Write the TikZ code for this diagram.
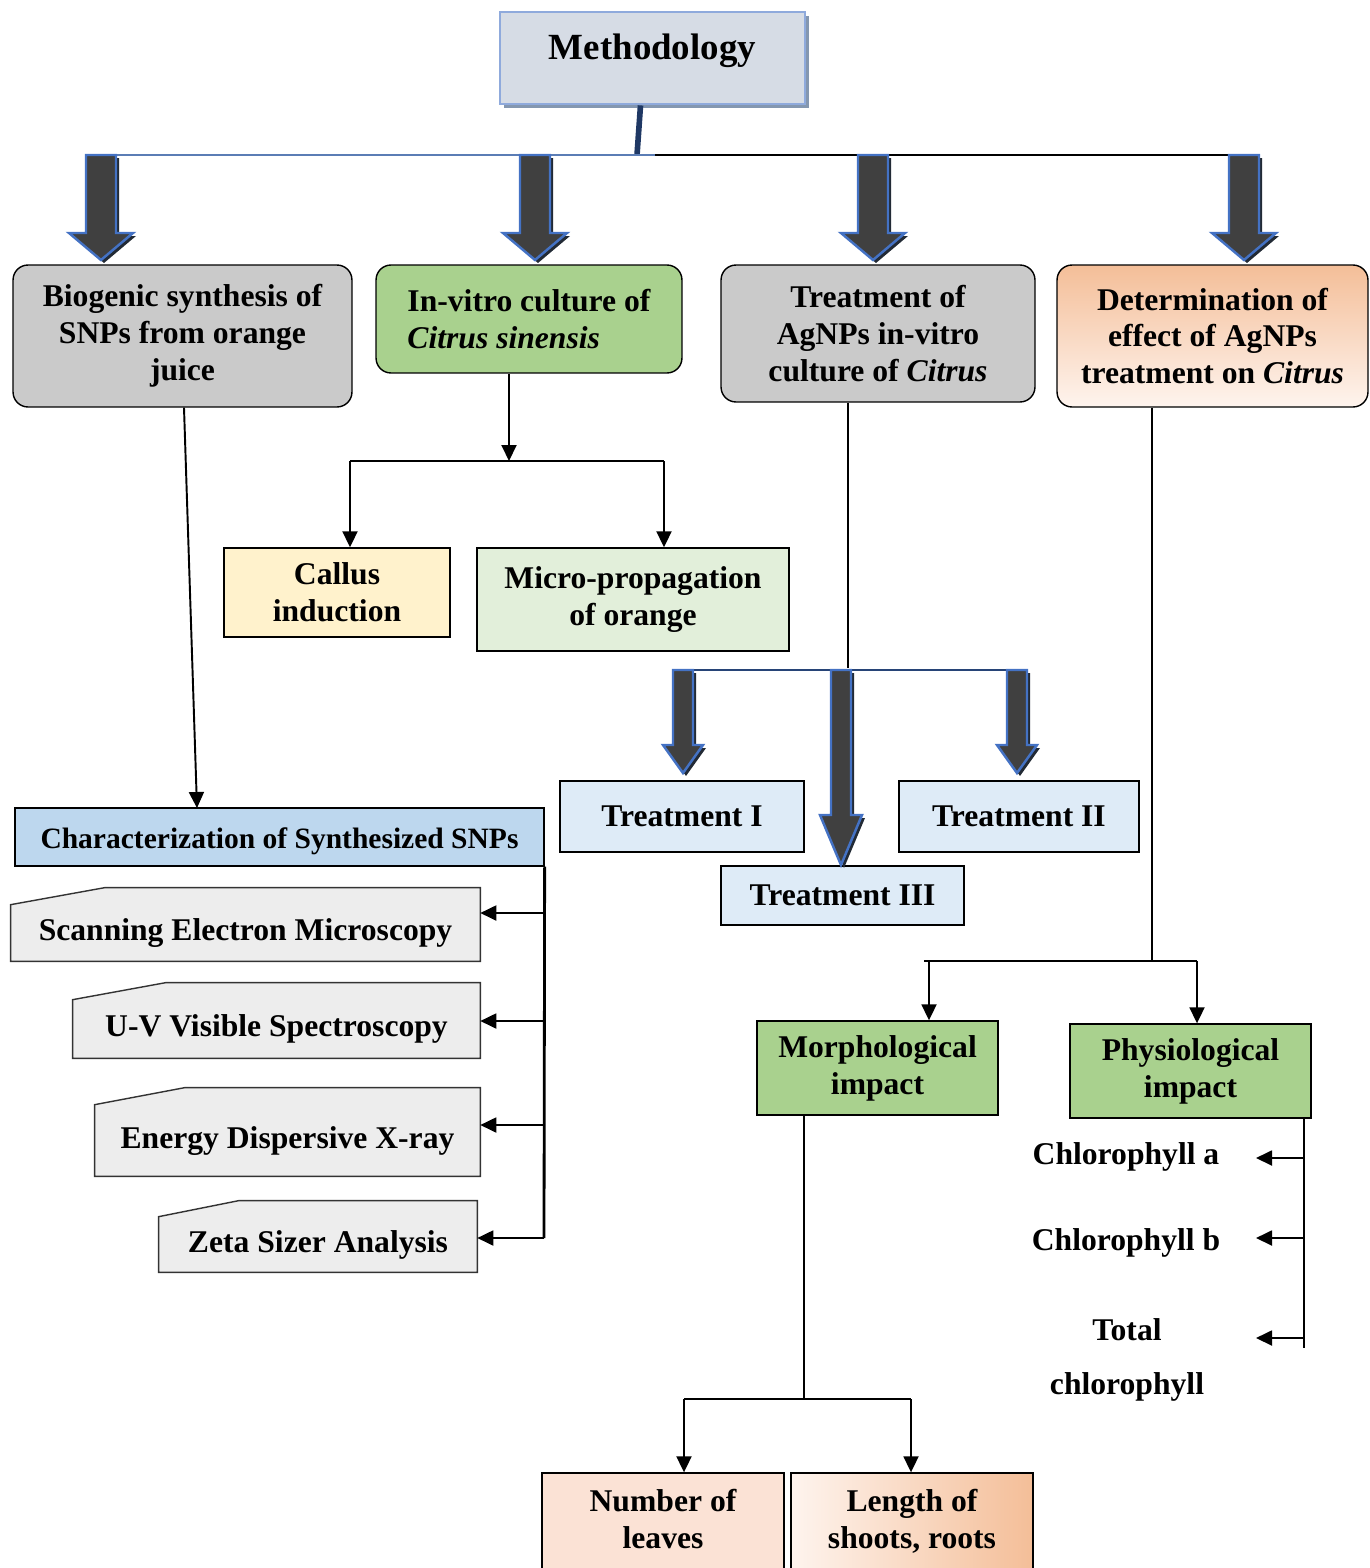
\documentclass[tikz,border=0pt]{standalone}
\usepackage{fontspec}
\setmainfont{Liberation Serif}
\usepackage{xcolor}
\usetikzlibrary{arrows.meta, shadows, backgrounds, calc}

\definecolor{methfill}{HTML}{D6DCE5}
\definecolor{methdraw}{HTML}{8FAADC}
\definecolor{methshadow}{HTML}{8497B0}
\definecolor{navy}{HTML}{1F3864}
\definecolor{steel}{HTML}{5B7DB5}
\definecolor{grayfill}{HTML}{CACACA}
\definecolor{greenfill}{HTML}{A9D18E}
\definecolor{callusfill}{HTML}{FFF2CC}
\definecolor{microfill}{HTML}{E2EFDA}
\definecolor{charfill}{HTML}{BDD7EE}
\definecolor{snipfill}{HTML}{EDEDED}
\definecolor{treatfill}{HTML}{DEEBF7}
\definecolor{peach}{HTML}{F4BE98}
\definecolor{peachlight}{HTML}{FEF4EE}
\definecolor{leavesfill}{HTML}{FBE2D5}
\definecolor{arrdark}{HTML}{404040}
\definecolor{arrblue}{HTML}{4472C4}
\definecolor{arrshadow}{HTML}{222A35}

\tikzset{
  every node/.style={font=\fontsize{18}{21}\selectfont\bfseries},
  box/.style={draw=black, line width=0.8pt, inner sep=0pt, align=center},
  rbox/.style={box, rounded corners=0.3cm},
  snipbox/.style={inner sep=0pt, align=center, text height=0.78cm},
  snipline/.style={draw=black!80, fill=snipfill, line width=0.8pt},
  conn/.style={line width=1.1pt, black},
  arr/.style={conn, -{Triangle[length=0.32cm, width=0.3cm]}},
  bigarrow/.style={fill=arrdark, draw=arrblue, line width=1.4pt, line join=miter},
}

\begin{document}
\begin{tikzpicture}[x=0.02cm, y=-0.02cm]
    \useasboundingbox (0,0) rectangle (1369,1568);

    % TOP LEVEL
    \node[draw=methdraw, line width=1.6pt, fill=methfill, minimum width=6.1cm, minimum height=1.84cm,
          text depth=0.44cm, font=\fontsize{21}{24}\selectfont\bfseries,
          drop shadow={shadow xshift=0.08cm, shadow yshift=-0.08cm, fill=methshadow, opacity=1}]
        (meth) at (652.5,58) {Methodology};

    \node[rbox, fill=grayfill, minimum width=6.78cm, minimum height=2.84cm] (bio) at (182.5,336)
        {Biogenic synthesis of\\SNPs from orange\\juice};
    \node[rbox, fill=greenfill, minimum width=6.12cm, minimum height=2.16cm, align=left] (vitro) at (529,319)
        {In-vitro culture of\\\textit{Citrus sinensis}};
    \node[rbox, fill=grayfill, minimum width=6.28cm, minimum height=2.74cm] (treat) at (878,333.5)
        {Treatment of\\AgNPs in-vitro\\culture of \textit{Citrus}};
    \node[rbox, top color=peach, bottom color=peachlight, minimum width=6.22cm, minimum height=2.84cm] (det) at (1212.5,336)
        {Determination of\\effect of AgNPs\\treatment on \textit{Citrus}};

    \coordinate (topbar) at (637,155);
    \draw[navy, line width=3.2pt] ([xshift=-0.24cm]meth.south) -- (topbar);
    \draw[steel, line width=1.1pt] (92,155) -- (655,155);
    \draw[conn] (655,155) -- (1245,155);

    % BLOCK ARROWS
    \foreach \x in {101, 535, 873, 1244}
    {
        \fill[arrshadow, shift={(3,3)}] (\x-15,155) -- (\x+15,155) -- (\x+15,233) -- (\x+32,233)
            -- (\x,260) -- (\x-32,233) -- (\x-15,233) -- cycle;
        \draw[bigarrow] (\x-15,155) -- (\x+15,155) -- (\x+15,233) -- (\x+32,233)
            -- (\x,260) -- (\x-32,233) -- (\x-15,233) -- cycle;
    }

    % IN-VITRO BRANCH
    \node[box, fill=callusfill, minimum width=4.52cm, minimum height=1.78cm] (callus) at (337,592.5)
        {Callus\\induction};
    \node[box, fill=microfill, minimum width=6.24cm, minimum height=2.06cm] (micro) at (633,599.5)
        {Micro-propagation\\of orange};
    \coordinate (vjoin) at (509,461);
    \coordinate (vL) at (350,461);
    \coordinate (vR) at (664,461);
    \draw[arr] (vitro.south -| vjoin) -- (vjoin);
    \draw[conn] (vL) -- (vR);
    \draw[arr] (vL) -- (callus.north -| vL);
    \draw[arr] (vR) -- (micro.north -| vR);

    % CHARACTERIZATION
    \node[box, fill=charfill, minimum width=10.58cm, minimum height=1.16cm, text height=0.58cm,
          font=\fontsize{16.8}{20}\selectfont\bfseries] (charac) at (279.5,837)
        {Characterization of Synthesized SNPs};
    \coordinate (cin) at (197,808);
    \draw[arr] ([xshift=0.03cm]bio.south) -- (cin);

    \node[snipbox, minimum width=9.38cm, minimum height=1.46cm] (sem) at (245.5,924.5) {Scanning Electron Microscopy};
    \node[snipbox, minimum width=8.14cm, minimum height=1.5cm] (uv) at (276.5,1020.5) {U-V Visible Spectroscopy};
    \node[snipbox, minimum width=7.7cm, minimum height=1.76cm] (edx) at (287.5,1132) {Energy Dispersive X-ray};
    \node[snipbox, minimum width=6.36cm, minimum height=1.42cm] (zeta) at (318,1236.5) {Zeta Sizer Analysis};
    \begin{scope}[on background layer]
        \foreach \n/\cx/\cy in {sem/1.88/0.34, uv/1.86/0.34, edx/1.8/0.34, zeta/1.6/0.32}
            \draw[snipline] ([yshift=-\cy cm]\n.north west) -- ([xshift=\cx cm]\n.north west)
                -- (\n.north east) -- (\n.south east) -- (\n.south west) -- cycle;
    \end{scope}

    \coordinate (cbot) at (544,1238);
    \draw[conn, line width=1.6pt] (charac.south east) -- (cbot);
    \foreach \n/\yy in {sem/913, uv/1021, edx/1125, zeta/1238}
        \draw[arr] (544,\yy) -- (\n.east |- 0,\yy);

    % TREATMENTS
    \node[box, fill=treatfill, minimum width=4.88cm, minimum height=1.42cm] (tI) at (682,816.5) {Treatment I};
    \node[box, fill=treatfill, minimum width=4.8cm, minimum height=1.42cm] (tII) at (1019,816.5) {Treatment II};
    \node[box, fill=treatfill, minimum width=4.86cm, minimum height=1.18cm] (tIII) at (842.5,895.5) {Treatment III};
    \coordinate (tjoin) at (848,668);
    \draw[conn] (treat.south -| tjoin) -- (tjoin);
    \draw[navy!80!arrblue, line width=1.6pt] (683,670) -- (1027,670);
    \foreach \x/\h/\b/\w in {683/745/773/20, 841/815/865/21, 1017/745/773/20}
    {
        \fill[arrshadow, shift={(3,3)}] (\x-10,670) -- (\x+10,670) -- (\x+10,\h) -- (\x+\w,\h)
            -- (\x,\b) -- (\x-\w,\h) -- (\x-10,\h) -- cycle;
        \draw[bigarrow] (\x-10,670) -- (\x+10,670) -- (\x+10,\h) -- (\x+\w,\h)
            -- (\x,\b) -- (\x-\w,\h) -- (\x-10,\h) -- cycle;
    }

    % EFFECT OF AgNPs
    \node[box, fill=greenfill, minimum width=4.82cm, minimum height=1.88cm] (morph) at (877.5,1068)
        {Morphological\\impact};
    \node[box, fill=greenfill, minimum width=4.82cm, minimum height=1.88cm] (phys) at (1190.5,1071)
        {Physiological\\impact};
    \coordinate (dj) at (1152,961);
    \coordinate (dL) at (929,961);
    \coordinate (dR) at (1197,961);
    \draw[conn] (det.south -| dj) -- (dj);
    \draw[conn] (924,961) -- (dR);
    \draw[arr] (dL) -- (morph.north -| dL);
    \draw[arr] (dR) -- (phys.north -| dR);

    % PHYSIOLOGICAL
    \node (chla) at (1126,1157) {Chlorophyll a};
    \node (chlb) at (1126,1243) {Chlorophyll b};
    \node[align=center] (chlt) at (1127,1360) {Total\\[10pt]chlorophyll};
    \coordinate (pv) at (1304,1348);
    \draw[conn] (phys.south -| pv) -- (pv);
    \foreach \yy in {1158, 1238, 1338}
        \draw[arr] (1304,\yy) -- (1256,\yy);

    % MORPHOLOGICAL
    \node[box, fill=leavesfill, minimum width=4.84cm, minimum height=2.12cm, text depth=0.3cm] (leaves) at (663,1526)
        {Number of\\leaves};
    \node[box, left color=peachlight, right color=peach, minimum width=4.84cm, minimum height=2.12cm, text depth=0.3cm] (length) at (912,1526)
        {Length of\\shoots, roots};
    \coordinate (mj) at (804,1399);
    \coordinate (mL) at (684,1399);
    \coordinate (mR) at (911,1399);
    \draw[conn] (morph.south -| mj) -- (mj);
    \draw[conn] (mL) -- (mR);
    \draw[arr] (mL) -- (leaves.north -| mL);
    \draw[arr] (mR) -- (length.north -| mR);
\end{tikzpicture}
\end{document}
